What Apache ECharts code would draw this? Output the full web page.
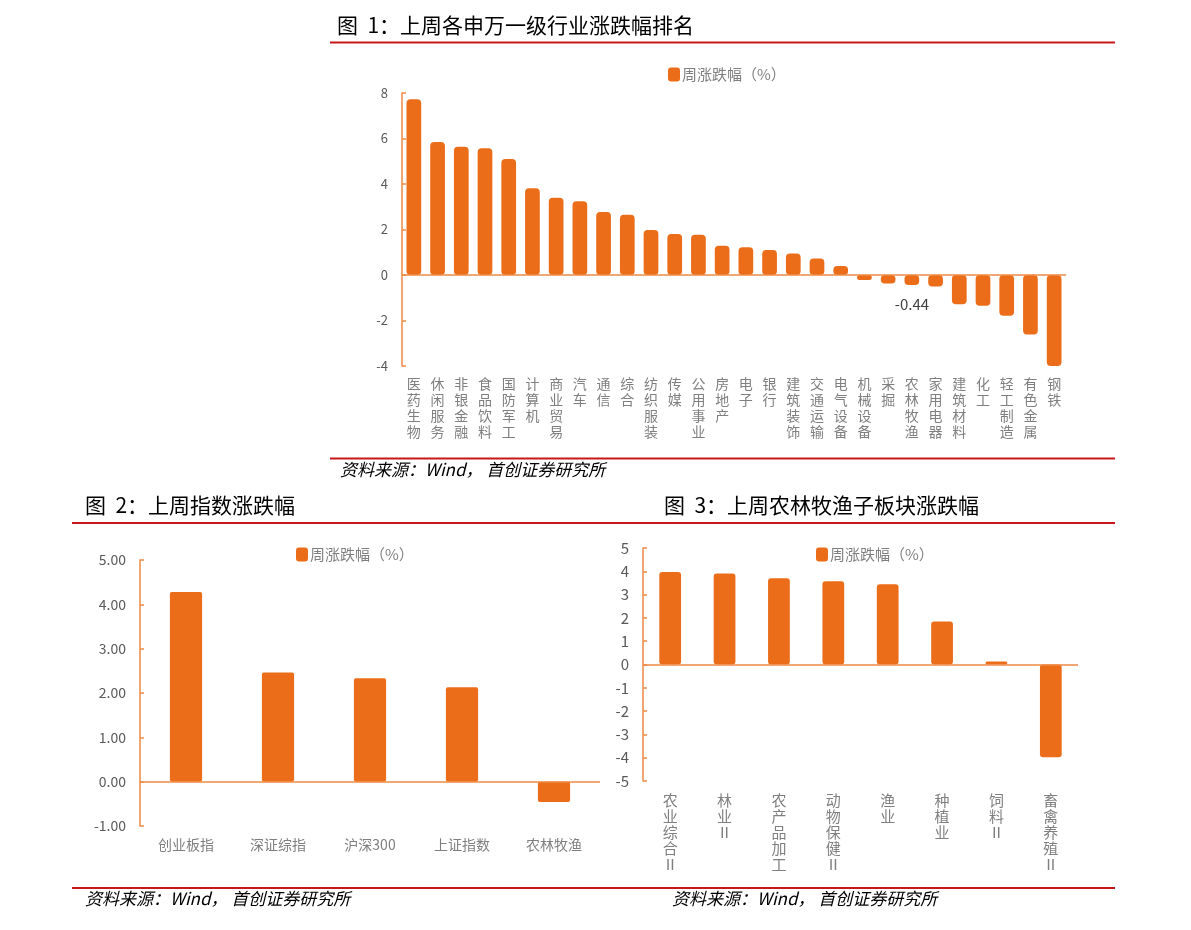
<!DOCTYPE html>
<html>
<head>
<meta charset="utf-8">
<script src="https://cdn.jsdelivr.net/npm/echarts@6/dist/echarts.min.js"></script>
<style>
html,body{margin:0;padding:0;background:#fff;}
#c{width:1191px;height:930px;}
</style>
</head>
<body>
<div id="c"></div>
<script>
// ---- data ----
const cats1 = ['医药生物','休闲服务','非银金融','食品饮料','国防军工','计算机','商业贸易','汽车','通信','综合','纺织服装','传媒','公用事业','房地产','电子','银行','建筑装饰','交通运输','电气设备','机械设备','采掘','农林牧渔','家用电器','建筑材料','化工','轻工制造','有色金属','钢铁'];
const vals1 = [7.72,5.85,5.64,5.57,5.10,3.81,3.40,3.24,2.77,2.65,1.98,1.80,1.77,1.29,1.22,1.10,0.95,0.72,0.40,-0.05,-0.37,-0.44,-0.51,-1.29,-1.35,-1.79,-2.61,-4.30];
const labelCat1 = '农林牧渔';

const cats2 = ['创业板指','深证综指','沪深300','上证指数','农林牧渔'];
const vals2 = [4.28,2.46,2.33,2.13,-0.46];

const cats3 = ['农业综合Ⅱ','林业Ⅱ','农产品加工','动物保健Ⅱ','渔业','种植业','饲料Ⅱ','畜禽养殖Ⅱ'];
const vals3 = [3.97,3.91,3.70,3.57,3.44,1.85,0.13,-3.98];

const seriesName = '周涨跌幅（%）';
const titles = ['图  1：上周各申万一级行业涨跌幅排名','图  2：上周指数涨跌幅','图  3：上周农林牧渔子板块涨跌幅'];
const sourceText = '资料来源：Wind， 首创证券研究所';

// ---- style ----
const BAR = '#EB6C19';
const AXIS = '#EE8A45';
const RED = '#C8161D';
const FONT = '"Noto Sans CJK SC", "Noto Sans", sans-serif';
const vert = v => v.split('').join('\n');

const chart = echarts.init(document.getElementById('c'), null, {renderer: 'canvas'});

function yAxis(idx, min, max, interval, fmt, fs) {
  return {
    type: 'value', gridIndex: idx, min, max, interval,
    axisLine: {show: true, lineStyle: {color: AXIS, width: 1.5}},
    axisTick: {show: true, inside: true, length: 4, lineStyle: {color: AXIS, width: 1.5}},
    splitLine: {show: false},
    axisLabel: {color: '#595959', fontSize: fs, fontFamily: FONT, margin: 14, formatter: fmt}
  };
}
function xAxis(idx, data, labelOpt) {
  return {
    type: 'category', gridIndex: idx, data,
    axisLine: {show: false}, axisTick: {show: false},
    axisLabel: Object.assign({color: '#7f7f7f', fontFamily: FONT, interval: 0}, labelOpt)
  };
}
function zeroLine() {
  return {silent: true, symbol: 'none', label: {show: false},
    lineStyle: {color: AXIS, width: 1.5, type: 'solid'},
    emphasis: {disabled: true}, data: [{yAxis: 0}]};
}
function legend(cx, y) {
  return {data: [seriesName], left: cx, top: y, itemWidth: 12, itemHeight: 14, itemGap: 2,
    icon: 'roundRect', selectedMode: false,
    textStyle: {color: '#7f7f7f', fontSize: 15, fontFamily: FONT, padding: [0,0,0,-3]}};
}

const graphics = [];
function text(str, x, y, size) {
  graphics.push({type: 'text', left: x, top: y, silent: true,
    style: {text: str, fill: '#000', font: size + 'px ' + FONT}});
}
function line(x1, x2, y) {
  graphics.push({type: 'line', silent: true, shape: {x1, y1: y, x2, y2: y},
    style: {stroke: RED, lineWidth: 2}});
}
text(titles[0], 337, 15, 21);
text(titles[1], 85, 495, 21);
text(titles[2], 664, 495, 21);
line(330, 1115, 42.5);
line(330, 1115, 458.5);
line(72, 1115, 523);
line(72, 1115, 888);
const srcFont = 'italic 17px "Noto Sans CJK SC", serif';
graphics.push({type: 'text', left: 340, top: 461, silent: true, style: {text: sourceText, fill: '#000', font: srcFont}});
graphics.push({type: 'text', left: 85, top: 890, silent: true, style: {text: sourceText, fill: '#000', font: srcFont}});
graphics.push({type: 'text', left: 672, top: 890, silent: true, style: {text: sourceText, fill: '#000', font: srcFont}});

const option = {
  backgroundColor: '#fff',
  animation: false,
  textStyle: {fontFamily: FONT},
  legend: [legend(663, 62), legend(291, 542), legend(811, 542)],
  grid: [
    {left: 402, right: 1191 - 1066, top: 93, bottom: 930 - 366},
    {left: 140, right: 1191 - 600, top: 560, bottom: 930 - 826},
    {left: 643, right: 1191 - 1078, top: 548, bottom: 930 - 781}
  ],
  xAxis: [
    xAxis(0, cats1, {fontSize: 14, lineHeight: 16, margin: 10, verticalAlign: 'top', formatter: vert}),
    xAxis(1, cats2, {fontSize: 14, margin: 12}),
    xAxis(2, cats3, {fontSize: 15, lineHeight: 16, margin: 11, verticalAlign: 'top', formatter: vert})
  ],
  yAxis: [
    yAxis(0, -4, 8, 2, v => String(v), 13),
    yAxis(1, -1, 5, 1, v => v.toFixed(2), 14),
    yAxis(2, -5, 5, 1, v => String(v), 15)
  ],
  series: [
    {name: seriesName, type: 'bar', xAxisIndex: 0, yAxisIndex: 0, barWidth: '62%', barMinHeight: 5, clip: true,
     itemStyle: {color: BAR, borderRadius: 4},
     data: vals1.map((v, i) => cats1[i] === labelCat1
       ? {value: v, label: {show: true, position: 'bottom', distance: 12, color: '#404040', fontSize: 15, fontFamily: FONT, formatter: p => p.value.toFixed(2)}}
       : v),
     markLine: zeroLine(), z: 3},
    {name: seriesName, type: 'bar', xAxisIndex: 1, yAxisIndex: 1, barWidth: '35%',
     itemStyle: {color: BAR, borderRadius: 2}, data: vals2, markLine: zeroLine()},
    {name: seriesName, type: 'bar', xAxisIndex: 2, yAxisIndex: 2, barWidth: '40%',
     itemStyle: {color: BAR, borderRadius: 3}, data: vals3, markLine: zeroLine()}
  ],
  graphic: graphics
};
chart.setOption(option);
</script>
</body>
</html>
